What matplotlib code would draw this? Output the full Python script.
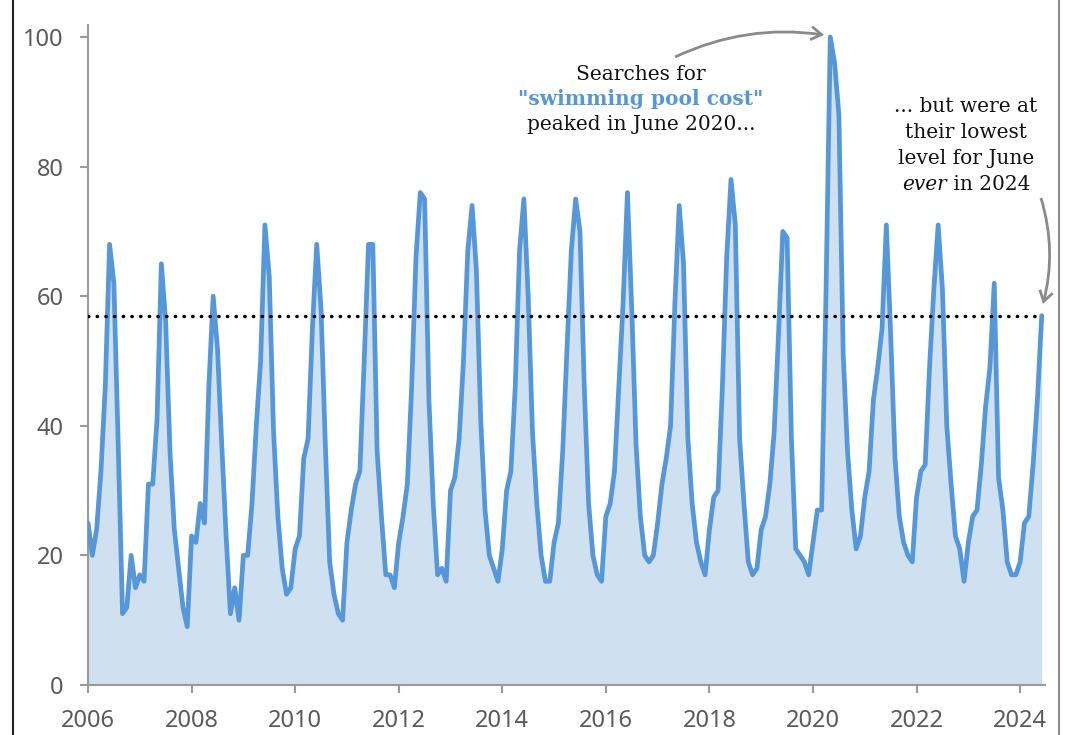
import matplotlib
matplotlib.use("Agg")
import matplotlib.pyplot as plt
from matplotlib.patches import FancyArrowPatch
from matplotlib.lines import Line2D
import numpy as np

# ---- data (monthly search interest, Jan 2006 - Jun 2024) ----
y2006 = [25, 20, 24, 33, 46, 68, 62, 37, 11, 12, 20, 15]
y2007 = [17, 16, 31, 31, 41, 65, 56, 36, 24, 18, 12, 9]
y2008 = [23, 22, 28, 25, 46, 60, 52, 37, 23, 11, 15, 10]
y2009 = [20, 20, 28, 40, 50, 71, 63, 39, 26, 18, 14, 15]
y2010 = [21, 23, 35, 38, 55, 68, 58, 37, 19, 14, 11, 10]
y2011 = [22, 27, 31, 33, 50, 68, 68, 36, 26, 17, 17, 15]
y2012 = [22, 26, 31, 46, 66, 76, 75, 44, 28, 17, 18, 16]
y2013 = [30, 32, 38, 50, 67, 74, 64, 41, 27, 20, 18, 16]
y2014 = [21, 30, 33, 46, 67, 75, 60, 39, 28, 20, 16, 16]
y2015 = [22, 25, 36, 52, 67, 75, 70, 46, 28, 20, 17, 16]
y2016 = [26, 28, 33, 46, 59, 76, 58, 37, 26, 20, 19, 20]
y2017 = [25, 31, 35, 40, 59, 74, 65, 38, 28, 22, 19, 17]
y2018 = [24, 29, 30, 46, 66, 78, 71, 38, 28, 19, 17, 18]
y2019 = [24, 26, 31, 39, 54, 70, 69, 38, 21, 20, 19, 17]
y2020 = [22, 27, 27, 60, 100, 96, 88, 51, 36, 27, 21, 23]
y2021 = [29, 33, 44, 49, 55, 71, 54, 35, 26, 22, 20, 19]
y2022 = [29, 33, 34, 49, 61, 71, 61, 40, 31, 23, 21, 16]
y2023 = [22, 26, 27, 34, 43, 49, 62, 32, 27, 19, 17, 17]
y2024 = [19, 25, 26, 34, 44, 57]

start_year = 2006
june_2024_level = 57
x_ticks = [2006, 2008, 2010, 2012, 2014, 2016, 2018, 2020, 2022, 2024]
y_ticks = [0, 20, 40, 60, 80, 100]

values = np.array(y2006 + y2007 + y2008 + y2009 + y2010 + y2011 + y2012 + y2013 +
                  y2014 + y2015 + y2016 + y2017 + y2018 + y2019 + y2020 + y2021 +
                  y2022 + y2023 + y2024, dtype=float)
months = start_year + np.arange(len(values)) / 12.0

# ---- style ----
LINE = "#5597d8"
FILL = "#cfe0f1"
GRAY = "#9a9a9a"
TXT = "#5a5a5a"

W, H = 1080, 735
fig = plt.figure(figsize=(W / 100, H / 100), dpi=100)
fig.patch.set_facecolor("white")

def fx(px):
    return px / W

def fy(py):
    return 1 - py / H

ax = fig.add_axes([fx(88), 50 / H, (1045 - 88) / W, (685 - 25) / H])
ax.fill_between(months, 0, values, color=FILL, linewidth=0, zorder=1)
ax.plot(months, values, color=LINE, lw=3.4, solid_joinstyle="round",
        solid_capstyle="round", zorder=3)
ax.plot([months[0], months[-1]], [june_2024_level, june_2024_level], color="black",
        lw=2.5, linestyle=(0, (0.1, 2.4)), dash_capstyle="round", zorder=4)

ax.set_xlim(start_year, 2024.48)
ax.set_ylim(0, 101.85)
ax.set_xticks(x_ticks)
ax.set_yticks(y_ticks)
for s in ["top", "right"]:
    ax.spines[s].set_visible(False)
for s in ["left", "bottom"]:
    ax.spines[s].set_color(GRAY)
    ax.spines[s].set_linewidth(1.5)
ax.tick_params(axis="both", colors=GRAY, width=1.5, length=5.5, pad=12,
               labelsize=17, labelcolor=TXT)
for lab in ax.get_xticklabels() + ax.get_yticklabels():
    lab.set_fontfamily("Noto Sans")
ax.set_facecolor("none")

# ---- annotations ----
SERIF = "DejaVu Serif"
fs = 14.5
INK = "#111111"
fig.text(fx(641), fy(74), "Searches for", ha="center", va="center",
         fontsize=fs, family=SERIF, color=INK)
fig.text(fx(641), fy(99), '"swimming pool cost"', ha="center", va="center",
         fontsize=fs, family=SERIF, color=LINE, fontweight="bold")
fig.text(fx(641), fy(124), "peaked in June 2020...", ha="center", va="center",
         fontsize=fs, family=SERIF, color=INK)

rx = 966
fig.text(fx(rx), fy(107), "... but were at", ha="center", va="center",
         fontsize=fs, family=SERIF, color=INK)
fig.text(fx(rx), fy(133), "their lowest", ha="center", va="center",
         fontsize=fs, family=SERIF, color=INK)
fig.text(fx(rx), fy(159), "level for June", ha="center", va="center",
         fontsize=fs, family=SERIF, color=INK)
t1 = fig.text(0, fy(185), "ever", ha="left", va="center", fontsize=fs,
              family=SERIF, style="italic", color=INK)
t2 = fig.text(0, fy(185), " in 2024", ha="left", va="center", fontsize=fs,
              family=SERIF, color=INK)
r = fig.canvas.get_renderer()
w1 = t1.get_window_extent(r).width
w2 = t2.get_window_extent(r).width
x0 = rx - (w1 + w2) / 2
t1.set_x(fx(x0))
t2.set_x(fx(x0 + w1))

arrow_kw = dict(arrowstyle="->,head_length=0.5,head_width=0.32", color="#8a8a8a",
                lw=2.0, transform=fig.transFigure, mutation_scale=15,
                shrinkA=0, shrinkB=0, joinstyle="miter", capstyle="butt")
a1 = FancyArrowPatch((fx(675), fy(57)), (fx(824), fy(35)),
                     connectionstyle="arc3,rad=-0.15", **arrow_kw)
fig.add_artist(a1)
a2 = FancyArrowPatch((fx(1041), fy(198)), (fx(1043), fy(304)),
                     connectionstyle="arc3,rad=-0.14", **arrow_kw)
fig.add_artist(a2)

# screenshot frame edges
fig.add_artist(Line2D([fx(13), fx(13)], [0, 1], color="#222222", lw=1.5,
                      transform=fig.transFigure))
fig.add_artist(Line2D([fx(1059), fx(1059)], [0, 1], color="#8a8a8a", lw=1.5,
                      transform=fig.transFigure))

fig.savefig("out.png", dpi=100)
